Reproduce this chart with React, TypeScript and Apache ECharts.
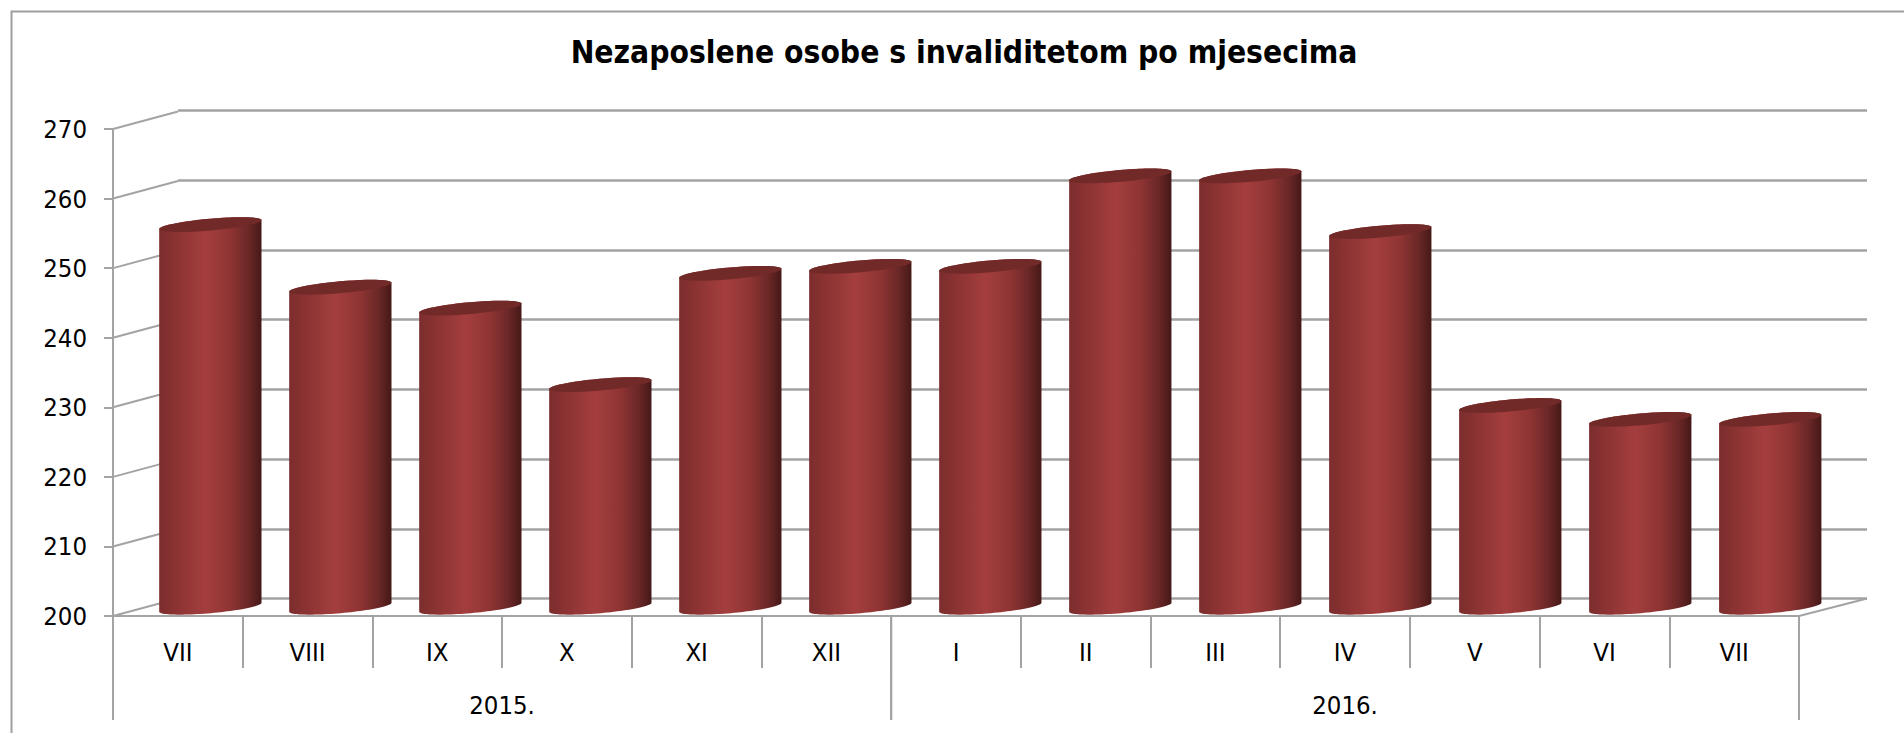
import React, { useEffect, useRef } from "react";
import * as echarts from "echarts";

const months = ["VII", "VIII", "IX", "X", "XI", "XII", "I", "II", "III", "IV", "V", "VI", "VII"];
const values = [255, 246, 243, 232, 248, 249, 249, 262, 262, 254, 229, 227, 227];
const yearLabels = ["2015.", "2016."];
const yearStarts = [0, 6];
const yearEnds = [5, 12];
const yTicks = [200, 210, 220, 230, 240, 250, 260, 270];
const titleText = "Nezaposlene osobe s invaliditetom po mjesecima";

const FONT = "'DejaVu Sans Condensed', 'Noto Sans', sans-serif";
const GRID_COLOR = "#a3a3a3";
const DEPTH_X = 65;
const DEPTH_Y = 17.5;
const FRONT = { left: 113, top: 129, width: 1686, height: 487 };
const BACK = { left: 178, top: 110.5, width: 1689, height: 488 };

const barGradient = () =>
  new echarts.graphic.LinearGradient(0, 0, 1, 0, [
    { offset: 0, color: "#7c2d2d" },
    { offset: 0.15, color: "#8a3232" },
    { offset: 0.45, color: "#a43e3e" },
    { offset: 0.7, color: "#8e3433" },
    { offset: 0.88, color: "#682726" },
    { offset: 1, color: "#451817" },
  ]);

const ellipsePoint = (cx: number, cy: number, a: number, b: number, rot: number, t: number) => {
  const x = a * Math.cos(t);
  const y = b * Math.sin(t);
  return [cx + x * Math.cos(rot) - y * Math.sin(rot), cy + x * Math.sin(rot) + y * Math.cos(rot)];
};

const arcPoints = (cx: number, cy: number, a: number, b: number, rot: number, from: number, to: number) => {
  const pts: number[][] = [];
  const steps = 48;
  for (let i = 0; i <= steps; i++) {
    pts.push(ellipsePoint(cx, cy, a, b, rot, from + ((to - from) * i) / steps));
  }
  return pts;
};

export default function App() {
  const ref = useRef<HTMLDivElement>(null);

  useEffect(() => {
    document.body.style.margin = "0";
    document.body.style.overflow = "hidden";
    const chart = echarts.init(ref.current!, null, { renderer: "svg" });

    const renderBar = (params: any, api: any) => {
      const idx = api.value(0);
      const val = api.value(1);
      const base = api.coord([idx, 200]);
      const top = api.coord([idx, val]);
      const band = api.size([1, 0])[0];
      const cx = base[0] + DEPTH_X / 2 + 0.3 * idx;
      const cyB = base[1] - DEPTH_Y / 2;
      const cyT = top[1] - DEPTH_Y / 2;
      const a = band * 0.396;
      const b = 5.9;
      const rot = -0.088;
      const body = [
        ...arcPoints(cx, cyT, a, b, rot, Math.PI, Math.PI * 2),
        ...arcPoints(cx, cyB, a, b, rot, 0, Math.PI),
      ];
      return {
        type: "group",
        children: [
          { type: "polygon", shape: { points: body }, style: { fill: barGradient() } },
          {
            type: "polygon",
            shape: { points: arcPoints(cx, cyT, a, b, rot, 0, Math.PI * 2) },
            style: { fill: "#722a29" },
          },
        ],
      };
    };

    const renderDiagonal = (params: any, api: any) => {
      const v = api.value(0);
      const p = api.coord([0, v]);
      const band = api.size([1, 0])[0];
      const x = p[0] - band / 2;
      return {
        type: "line",
        shape: { x1: x, y1: p[1], x2: x + DEPTH_X, y2: p[1] - DEPTH_Y },
        style: { stroke: GRID_COLOR, lineWidth: 2 },
      };
    };

    const renderFloorEdge = (params: any, api: any) => {
      const p = api.coord([api.value(0), 200]);
      const band = api.size([1, 0])[0];
      const x = p[0] + band / 2;
      return {
        type: "line",
        shape: { x1: x, y1: p[1], x2: x + DEPTH_X + 3, y2: p[1] - DEPTH_Y },
        style: { stroke: GRID_COLOR, lineWidth: 2 },
      };
    };

    const renderYear = (params: any, api: any) => {
      const s = api.coord([api.value(0), 200]);
      const e = api.coord([api.value(1), 200]);
      const band = api.size([1, 0])[0];
      const x1 = s[0] - band / 2;
      const x2 = e[0] + band / 2;
      const line = (x: number) => ({
        type: "line",
        shape: { x1: x, y1: s[1], x2: x, y2: s[1] + 104 },
        style: { stroke: GRID_COLOR, lineWidth: 2 },
      });
      return {
        type: "group",
        children: [
          line(x1),
          line(x2),
          {
            type: "text",
            style: {
              text: yearLabels[params.dataIndex],
              x: (x1 + x2) / 2,
              y: s[1] + 89,
              align: "center",
              verticalAlign: "middle",
              fill: "#000",
              font: `25.5px ${FONT}`,
            },
          },
        ],
      };
    };

    chart.setOption({
      animation: false,
      backgroundColor: "#fff",
      title: {
        text: titleText,
        left: 959,
        top: 47,
        textAlign: "center",
        textVerticalAlign: "middle",
        textStyle: { fontFamily: FONT, fontWeight: "bold", fontSize: 31.5, color: "#000" },
      },
      graphic: [
        {
          type: "rect",
          z: -10,
          shape: { x: 11.5, y: 11.5, width: 2400, height: 1200 },
          style: { fill: "none", stroke: "#9e9e9e", lineWidth: 2 },
        },
      ],
      grid: [
        { ...FRONT, containLabel: false },
        { ...BACK, containLabel: false },
      ],
      xAxis: [
        {
          type: "category",
          gridIndex: 0,
          data: months,
          axisLine: { show: true, lineStyle: { color: GRID_COLOR, width: 2 } },
          axisTick: { show: true, alignWithLabel: false, length: 52, interval: 0, lineStyle: { color: GRID_COLOR, width: 2 } },
          axisLabel: { interval: 0, margin: 23, color: "#000", fontFamily: FONT, fontSize: 25.5 },
        },
        {
          type: "category",
          gridIndex: 1,
          data: months,
          axisLine: { show: false },
          axisTick: { show: false },
          axisLabel: { show: false },
        },
      ],
      yAxis: [
        {
          type: "value",
          gridIndex: 0,
          min: 200,
          max: 270,
          interval: 10,
          axisLine: { show: true, lineStyle: { color: GRID_COLOR, width: 2 } },
          axisTick: { show: true, length: 9, lineStyle: { color: GRID_COLOR, width: 2 } },
          axisLabel: { margin: 26, color: "#000", fontFamily: FONT, fontSize: 25.5 },
          splitLine: { show: false },
        },
        {
          type: "value",
          gridIndex: 1,
          min: 200,
          max: 270,
          interval: 10,
          axisLine: { show: false },
          axisTick: { show: false },
          axisLabel: { show: false },
          splitLine: { show: true, lineStyle: { color: GRID_COLOR, width: 2.5 } },
        },
      ],
      series: [
        {
          type: "custom",
          name: "diagonals",
          xAxisIndex: 0,
          yAxisIndex: 0,
          z: 1,
          clip: false,
          silent: true,
          encode: { x: -1, y: 0 },
          data: yTicks.map((v) => [v]),
          renderItem: renderDiagonal,
        },
        {
          type: "custom",
          name: "floor",
          xAxisIndex: 0,
          yAxisIndex: 0,
          z: 1,
          clip: false,
          silent: true,
          data: [[months.length - 1, 200]],
          renderItem: renderFloorEdge,
        },
        {
          type: "custom",
          name: "years",
          xAxisIndex: 0,
          yAxisIndex: 0,
          z: 3,
          clip: false,
          silent: true,
          data: yearStarts.map((s, i) => [s, yearEnds[i]]),
          renderItem: renderYear,
        },
        {
          type: "custom",
          name: "Nezaposlene osobe",
          xAxisIndex: 0,
          yAxisIndex: 0,
          z: 5,
          clip: false,
          data: values.map((v, i) => [i, v]),
          encode: { x: 0, y: 1 },
          renderItem: renderBar,
        },
      ],
    });

    return () => chart.dispose();
  }, []);

  return <div ref={ref} style={{ position: "absolute", left: 0, top: 0, width: 1904, height: 733 }} />;
}
